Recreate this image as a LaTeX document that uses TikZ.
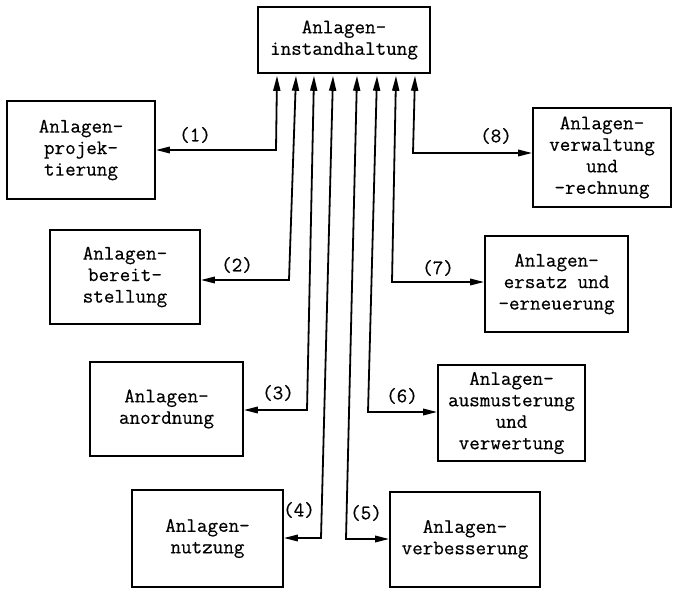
\documentclass[tikz,border=0pt]{standalone}
\usepackage{fontspec}
\newfontfamily\typewriter{Latin Modern Mono}[FakeBold=0.5]
\usetikzlibrary{arrows.meta,calc}
\begin{document}
\begin{tikzpicture}[x=1bp,y=-1bp,
  every node/.style={font=\typewriter\fontsize{20.5bp}{21.5bp}\selectfont},
  box/.style={draw,line width=1.8bp,inner sep=0pt,align=center},
  mainbox/.style={box,line width=2.8bp},
  lbl/.style={inner sep=0pt},
  link/.style={line width=1.8bp,
    {Triangle[length=14bp,width=6.5bp]}-{Triangle[length=15bp,width=7bp]}}]
\useasboundingbox (0,0) rectangle (674,590);

% central box
\node[mainbox,minimum width=172bp,minimum height=66bp] (top) at (344,40)
  {Anlagen-\\instandhaltung};

% surrounding boxes
\node[box,minimum width=148bp,minimum height=98bp] (b1) at (81,150)
  {Anlagen-\\projek-\\tierung};
\node[box,minimum width=150bp,minimum height=94bp] (b2) at (125,277)
  {Anlagen-\\bereit-\\stellung};
\node[box,minimum width=153bp,minimum height=94bp] (b3) at (166.5,409)
  {Anlagen-\\anordnung};
\node[box,minimum width=151bp,minimum height=97bp] (b4) at (207.5,538.5)
  {Anlagen-\\nutzung};
\node[box,minimum width=150bp,minimum height=95bp] (b5) at (465,539.5)
  {Anlagen-\\verbesserung};
\node[box,minimum width=147bp,minimum height=96bp] (b6) at (511.5,413)
  {Anlagen-\\ausmusterung\\und\\verwertung};
\node[box,minimum width=143bp,minimum height=96bp] (b7) at (556.5,284)
  {Anlagen-\\ersatz und\\-erneuerung};
\node[box,minimum width=138bp,minimum height=99bp] (b8) at (602,157.5)
  {Anlagen-\\verwaltung\\und\\-rechnung};

% bends of the connectors
\coordinate (k1) at (276,150);
\coordinate (k2) at (289,280);
\coordinate (k3) at (307,410);
\coordinate (k4) at (321,538);
\coordinate (k5) at (346,539);
\coordinate (k6) at (368,412);
\coordinate (k7) at (392,282);
\coordinate (k8) at (413,153);

% connector ends on the central box
\coordinate (t1) at ($(top.south)+(-67,1.4)$);
\coordinate (t2) at ($(top.south)+(-48,1.4)$);
\coordinate (t3) at ($(top.south)+(-30,1.4)$);
\coordinate (t4) at ($(top.south)+(-11,1.4)$);
\coordinate (t5) at ($(top.south)+(13,1.4)$);
\coordinate (t6) at ($(top.south)+(33,1.4)$);
\coordinate (t7) at ($(top.south)+(52,1.4)$);
\coordinate (t8) at ($(top.south)+(71,1.4)$);

\draw[link] (b1.east |- k1) -- (k1) -- (t1);
\draw[link] (b2.east |- k2) -- (k2) -- (t2);
\draw[link] (b3.east |- k3) -- (k3) -- (t3);
\draw[link] (b4.east |- k4) -- (k4) -- (t4);
\draw[link] (b5.west |- k5) -- (k5) -- (t5);
\draw[link] (b6.west |- k6) -- (k6) -- (t6);
\draw[link] (b7.west |- k7) -- (k7) -- (t7);
\draw[link] (b8.west |- k8) -- (k8) -- (t8);

% connector numbers
\node[lbl] (l1) at (195,135) {(1)};
\node[lbl] (l2) at (237,265) {(2)};
\node[lbl] (l3) at (278,393) {(3)};
\node[lbl] (l4) at (299,510) {(4)};
\node[lbl] (l5) at (366,513) {(5)};
\node[lbl] (l6) at (402,396) {(6)};
\node[lbl] (l7) at (438,268) {(7)};
\node[lbl] (l8) at (496,136) {(8)};
\end{tikzpicture}
\end{document}
